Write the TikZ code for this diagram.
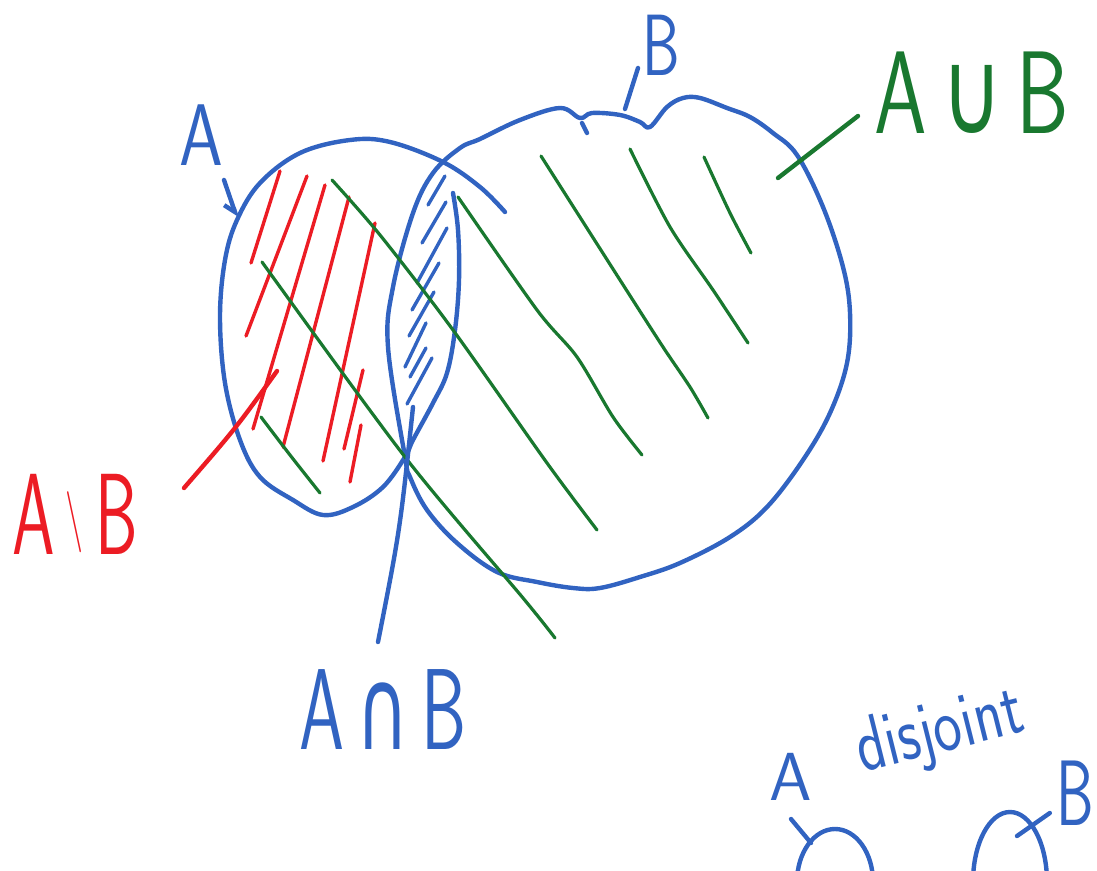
\documentclass[tikz,border=0pt]{standalone}
\usepackage{fontspec}
\usepackage{tikz}
\usetikzlibrary{arrows.meta}
\newfontfamily\symfont{DejaVu Sans}
\definecolor{setcol}{HTML}{3163C1}
\definecolor{diffcol}{HTML}{EC1C24}
\definecolor{unicol}{HTML}{19782F}
\newcommand{\tall}[2]{\scalebox{1}[#1]{#2}}% #1 vertical stretch, #2 text
\newcommand{\strokes}[2]{% #1 colour, #2 list of x1/y1/x2/y2
  \foreach \xa/\ya/\xb/\yb in {#2}
    \draw[#1, line width=1.7pt] (\xa,\ya) -- (\xb,\yb);
}

\begin{document}
\begin{tikzpicture}[x=0.5pt, y=-0.5pt, line cap=round, line join=round,
    every node/.style={inner sep=0pt},
    hand/.style={font=\sffamily\fontsize{#1}{#1}\selectfont},
    pen/.style={line width=2.2pt}]
  \useasboundingbox (0,0) rectangle (1097,871);
  \clip (0,0) rectangle (1097,871);

  % labels
  \node[hand=35pt, text=setcol] (lblA) at (201,135) {\tall{1.25}{A}};
  \node[hand=30pt, text=setcol] (lblB) at (661,45) {\tall{1.45}{B}};
  \node[hand=42pt, text=unicol] (lblUni) at (972,93) {\tall{1.4}{A\,{\symfont ∪}\,B}};
  \node[hand=34pt, text=diffcol] (lblDiff) at (75,514)
    {\tall{1.7}{A\,\raisebox{5pt}{\fontsize{18pt}{18pt}\selectfont\textbackslash}\,B}};
  \node[hand=36pt, text=setcol] (lblCap) at (383,710) {\tall{1.6}{A\,{\symfont ∩}\,B}};
  \node[hand=30pt, text=setcol, rotate=14] (lblDis) at (940,733) {\tall{1.3}{disjoint}};
  \node[hand=34pt, text=setcol] (lblA2) at (791,777) {A};
  \node[hand=30pt, text=setcol] (lblB2) at (1075,793) {\tall{1.55}{B}};

  % set A
  \draw[pen, setcol] plot[smooth, tension=0.6] coordinates {(453,193) (458,230)
    (459,280) (455,330) (447,373) (433,403) (413,440) (405,457) (383,487) (353,507)
    (323,515) (293,500) (260,477) (240,440) (225,383) (220,317) (225,260) (237,220)
    (260,183) (300,153) (350,140) (390,142) (443,162) (480,187) (505,212)};
  % set B
  \draw[pen, setcol] plot[smooth cycle, tension=0.6] coordinates {(405,457) (388,347)
    (393,287) (413,213) (433,173) (460,148) (480,139) (520,120) (560,108) (580,118)
    (592,113) (620,115) (640,122) (650,127) (667,107) (683,98) (700,98) (727,108)
    (750,117) (773,133) (797,155) (823,207) (843,267) (850,313) (847,363) (830,413)
    (803,460) (767,507) (730,537) (680,563) (640,577) (600,588) (573,588) (537,582)
    (497,572) (457,543) (427,510) (410,477)};
  \draw[pen, setcol] (582,123) -- (587,133);

  % A \ B
  \strokes{diffcol}{280/171/251/263, 307/176/246/336, 325/185/253/429,
    349/197/283/447, 375/223/323/461, 363/370/344/449, 361/425/350/482}
  % A cap B
  \strokes{setcol}{445/176/428/205, 446/202/422/243, 447/228/417/283,
    439/263/412/310, 434/292/409/336, 426/323/405/367, 426/348/410/377,
    432/358/407/404}
  % A cup B
  \foreach \pts in {{(332,180) (380,235) (453,330) (547,463) (597,530)},
      {(262,262) (405,457) (523,598) (555,638)},
      {(261,417) (290,455) (320,493)},
      {(458,197) (537,310) (577,357) (613,417) (642,455)},
      {(541,156) (620,280) (663,347) (690,387) (708,418)},
      {(630,149) (670,227) (713,290) (748,343)},
      {(704,157) (730,213) (751,253)}}
    \draw[unicol, line width=1.6pt] plot[smooth] coordinates \pts;

  % pointers
  \coordinate (aTail) at (224,180);   \coordinate (aEdge) at (237,218);
  \coordinate (bTail) at (638,68);    \coordinate (bEdge) at (625,109);
  \coordinate (uniTail) at (858,116); \coordinate (uniEdge) at (778,178);
  \coordinate (diffTail) at (184,488); \coordinate (diffTip) at (277,371);
  \coordinate (capTail) at (378,642); \coordinate (capTip) at (413,407);
  \draw[pen, setcol, -{Straight Barb[right, length=5pt, width=8pt]}] (aTail) -- (aEdge);
  \draw[pen, setcol] (bTail) -- (bEdge);
  \draw[pen, unicol] (uniTail) -- (uniEdge);
  \draw[pen, diffcol] (diffTail) .. controls (236,428) .. (diffTip);
  \draw[pen, setcol] (capTail) .. controls (400,530) .. (capTip);

  % disjoint sets
  \draw[pen, setcol] (835,882) ellipse (38 and 53);
  \draw[pen, setcol] (1010,882) ellipse (37 and 70);
  \coordinate (a2Edge) at (811,843);  \coordinate (b2Edge) at (1017,836);
  \draw[pen, setcol] ([shift={(0,18)}]lblA2.south) -- (a2Edge);
  \draw[pen, setcol] ([shift={(-6,20)}]lblB2.west) -- (b2Edge);
\end{tikzpicture}
\end{document}
